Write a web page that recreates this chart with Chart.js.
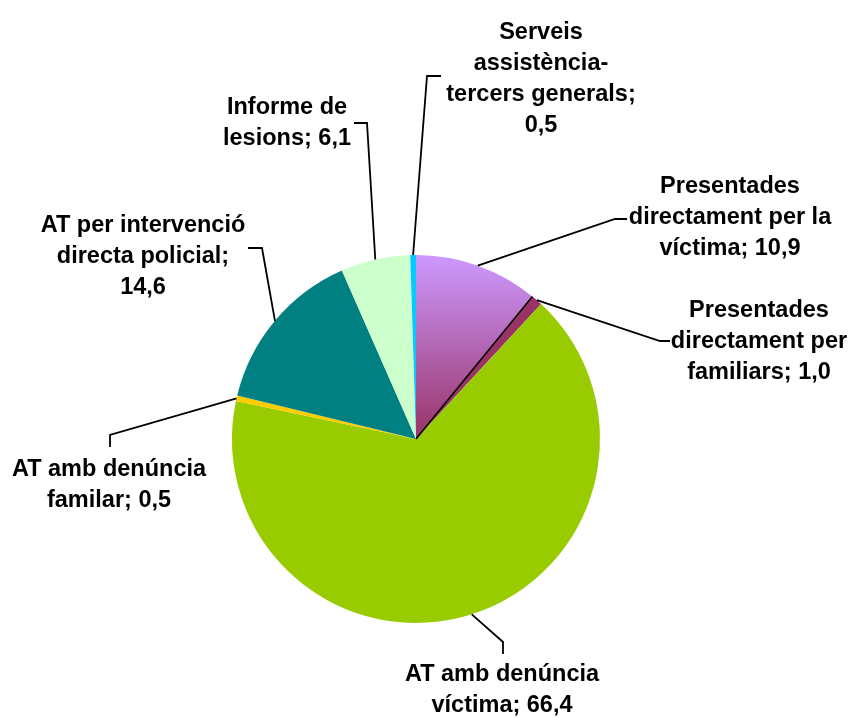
<!DOCTYPE html>
<html>
<head>
<meta charset="utf-8">
<style>
  html, body { margin: 0; padding: 0; background: #fff; }
  #wrap { width: 859px; height: 718px; }
</style>
</head>
<body>
<div id="wrap"><canvas id="pieChart" width="859" height="718"></canvas></div>

<script src="https://cdn.jsdelivr.net/npm/chart.js"></script>
<script>
// Data
const categories = [
    'Presentades directament per la víctima',
    'Presentades directament per familiars',
    'AT amb denúncia víctima',
    'AT amb denúncia familar',
    'AT per intervenció directa policial',
    'Informe de lesions',
    'Serveis assistència-tercers generals'
];
const values = [10.9, 1.0, 66.4, 0.5, 14.6, 6.1, 0.5];
const colors = ['#CC99FF', '#993366', '#99CC00', '#FFCC00', '#008080', '#CCFFCC', '#00CCFF'];

// Label text, wrapped as in the original ({v} = value)
const labelLines = [
    ['Presentades', 'directament per la', 'víctima; {v}'],
    ['Presentades', 'directament per', 'familiars; {v}'],
    ['AT amb denúncia', 'víctima; {v}'],
    ['AT amb denúncia', 'familar; {v}'],
    ['AT per intervenció', 'directa policial;', '{v}'],
    ['Informe de', 'lesions; {v}'],
    ['Serveis', 'assistència-', 'tercers generals;', '{v}']
];

// Label placement: centre x, first baseline, leader elbow points
const labelPos = [
    { cx: 730, y: 193, path: [[615, 219], [627, 219]] },
    { cx: 759, y: 317, path: [[660, 341], [670, 341]] },
    { cx: 502, y: 681, path: [[503, 642], [503, 654]] },
    { cx: 109, y: 476, path: [[110, 435], [110, 447]] },
    { cx: 143, y: 232, path: [[262, 248], [248, 248]] },
    { cx: 287, y: 114, path: [[367, 123], [354, 123]] },
    { cx: 541, y: 39,  path: [[427, 76], [441, 76]] }
];
const lineHeight = 31;

const fmt = v => v.toFixed(1).replace('.', ',');

const labelsPlugin = {
    id: 'pieLabels',
    afterDatasetsDraw(chart) {
        const ctx = chart.ctx;
        const arcs = chart.getDatasetMeta(0).data;
        ctx.save();

        // dark edge between the two "Presentades" slices
        const m = arcs[1].getProps(['x', 'y', 'startAngle', 'outerRadius'], true);
        ctx.strokeStyle = '#000';
        ctx.lineWidth = 1.5;
        ctx.beginPath();
        ctx.moveTo(m.x, m.y);
        ctx.lineTo(m.x + Math.cos(m.startAngle) * m.outerRadius, m.y + Math.sin(m.startAngle) * m.outerRadius);
        ctx.stroke();

        ctx.lineWidth = 1.8;
        ctx.font = 'bold 23.5px "Liberation Sans", Arial, sans-serif';
        ctx.fillStyle = '#000';
        ctx.textAlign = 'center';
        ctx.textBaseline = 'alphabetic';

        arcs.forEach((arc, i) => {
            const p = arc.getProps(['x', 'y', 'startAngle', 'endAngle', 'outerRadius'], true);
            const mid = (p.startAngle + p.endAngle) / 2;
            const ax = p.x + Math.cos(mid) * p.outerRadius;
            const ay = p.y + Math.sin(mid) * p.outerRadius;
            const pos = labelPos[i];

            ctx.beginPath();
            ctx.moveTo(ax, ay);
            pos.path.forEach(pt => ctx.lineTo(pt[0], pt[1]));
            ctx.stroke();

            labelLines[i].forEach((line, j) => {
                ctx.fillText(line.replace('{v}', fmt(values[i])), pos.cx, pos.y + j * lineHeight);
            });
        });
        ctx.restore();
    }
};

const chart = new Chart(document.getElementById('pieChart'), {
    type: 'pie',
    data: {
        labels: categories,
        datasets: [{
            data: values,
            backgroundColor: (c) => {
                const i = c.dataIndex;
                const area = c.chart.chartArea;
                if (i === 0 && area) {
                    const cy = (area.top + area.bottom) / 2;
                    const g = c.chart.ctx.createLinearGradient(0, area.top, 0, cy);
                    g.addColorStop(0, '#CC99FF');
                    g.addColorStop(1, '#993366');
                    return g;
                }
                return colors[i];
            },
            borderWidth: 0
        }]
    },
    options: {
        responsive: false,
        animation: false,
        rotation: 0,
        layout: {
            padding: { left: 231, right: 258, top: 255, bottom: 95 }
        },
        plugins: {
            legend: { display: false },
            tooltip: { enabled: false }
        }
    },
    plugins: [labelsPlugin]
});
</script>
</body>
</html>
